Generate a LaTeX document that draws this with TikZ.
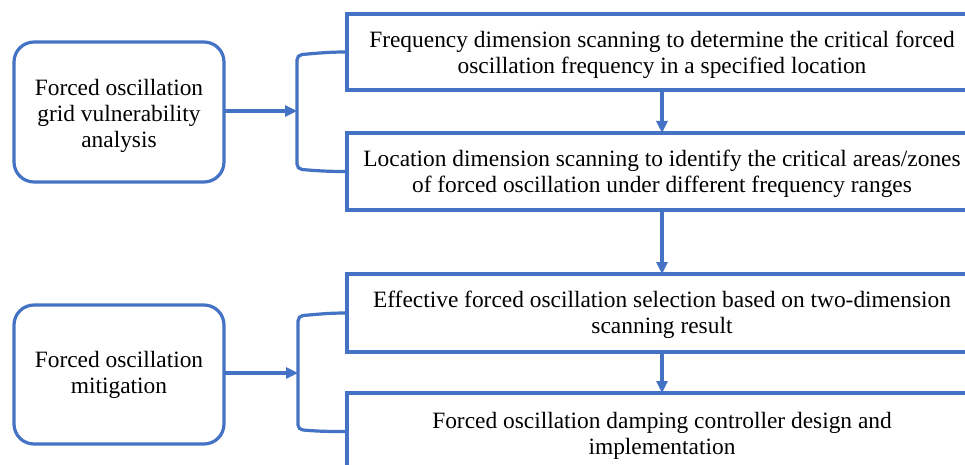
\documentclass[tikz,border=0pt]{standalone}
\usepackage{fontspec}
\setmainfont{Liberation Serif}
\usetikzlibrary{arrows.meta}
\definecolor{fblue}{HTML}{4472C4}
\begin{document}
\begin{tikzpicture}[x=1pt,y=-1pt,
  every node/.style={inner sep=0pt, outer sep=0pt},
  lbox/.style={draw=fblue, line width=3.2pt, rounded corners=20pt, minimum width=210pt},
  rbox/.style={draw=fblue, line width=3.2pt, minimum width=630pt},
  txt/.style={align=center, font=\fontsize{23.4}{26}\selectfont},
  conn/.style={draw=fblue, line width=3.2pt},
  arr/.style={conn, -{Triangle[length=12pt,width=11pt]}}]
\useasboundingbox (0,0) rectangle (965,465);
\fill[white] (0,0) rectangle (965,465);
\clip (0,0) rectangle (965,465);
\node[lbox, minimum height=140pt, label={[txt, yshift=-3.5pt]center:{Forced oscillation\\grid vulnerability\\analysis}}] (L1) at (119,112) {};
\node[lbox, minimum height=139pt, label={[txt, yshift=-0.5pt]center:{Forced oscillation\\mitigation}}] (L2) at (119,374.5) {};
\node[rbox, minimum height=76pt, label={[txt, yshift=-2.5pt]center:{Frequency dimension scanning to determine the critical forced\\oscillation frequency in a specified location}}] (R1) at (662,52) {};
\node[rbox, minimum height=77pt, label={[txt, yshift=-2.5pt]center:{Location dimension scanning to identify the critical areas/zones\\of forced oscillation under different frequency ranges}}] (R2) at (662,171.5) {};
\node[rbox, minimum height=78pt, label={[txt, yshift=-2pt]center:{Effective forced oscillation selection based on two-dimension\\scanning result}}] (R3) at (662,313) {};
\node[rbox, minimum height=77pt, label={[txt, yshift=-4pt]center:{Forced oscillation damping controller design and\\implementation}}] (R4) at (662,431.5) {};
\coordinate (B1) at (297,111);
\coordinate (B2) at (298,373);
\draw[conn] (R1.west) to[out=180,in=5] (302,54.5) to[out=185,in=90] (B1 |- 0,60) -- (B1 |- 0,164) to[out=-90,in=175] (302,169.5) to[out=-5,in=180] (R2.west);
\draw[conn] (R3.west) to[out=180,in=5] (303,315.5) to[out=185,in=90] (B2 |- 0,321) -- (B2 |- 0,425) to[out=-90,in=175] (303,430) to[out=-5,in=180] (R4.west);
\draw[arr] (L1.east |- B1) -- (B1);
\draw[arr] (L2.east |- B2) -- (B2);
\draw[arr] (R1.south) -- (R2.north);
\draw[arr] (R2.south) -- (R3.north);
\draw[arr] (R3.south) -- (R4.north);
\end{tikzpicture}
\end{document}
